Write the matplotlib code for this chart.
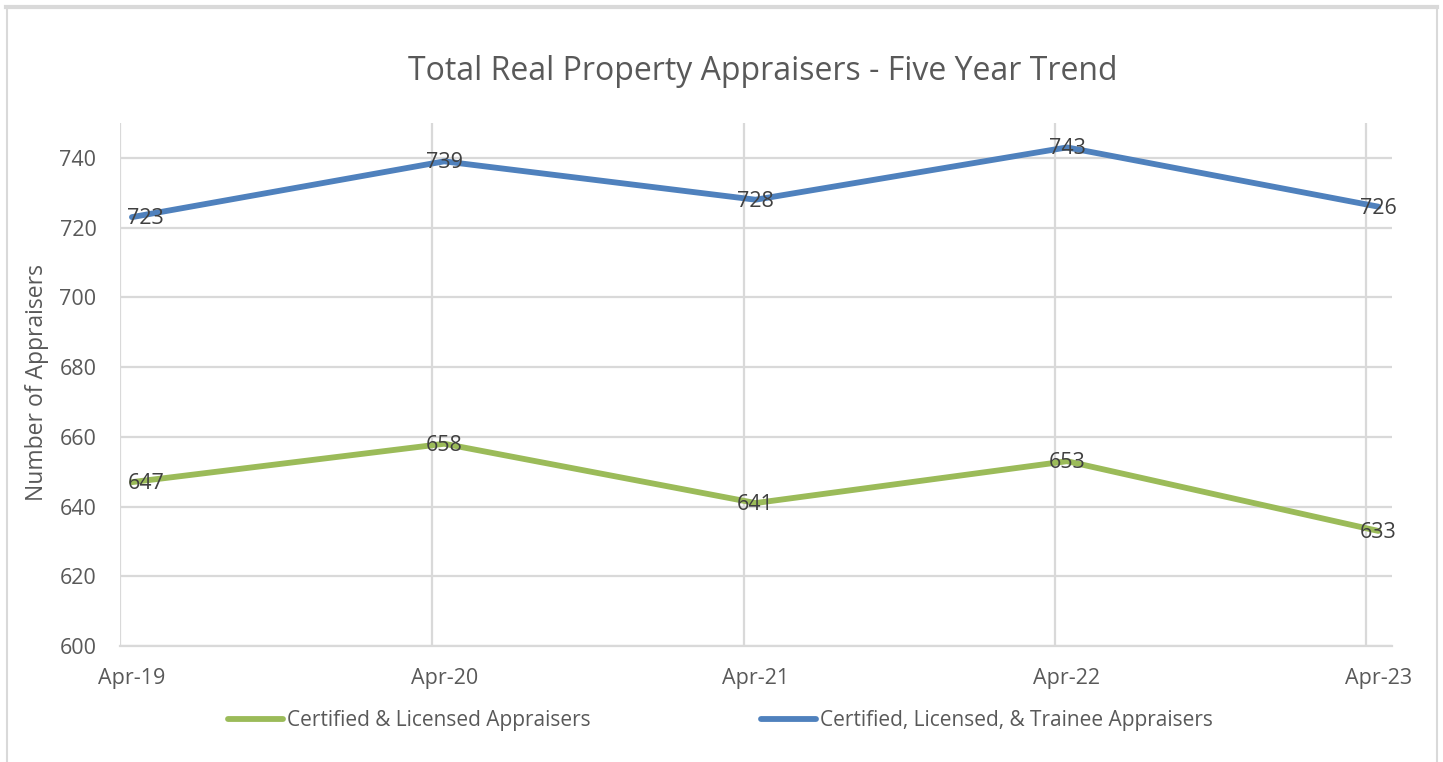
import matplotlib
matplotlib.use("Agg")
import matplotlib.pyplot as plt
import matplotlib.dates as mdates
from matplotlib.lines import Line2D
import pandas as pd

# ---- data ----
dates = ["2019-04-15", "2020-04-15", "2021-04-15", "2022-04-15", "2023-04-15"]
tick_labels = ["Apr-19", "Apr-20", "Apr-21", "Apr-22", "Apr-23"]
certified_licensed = [647, 658, 641, 653, 633]
certified_licensed_trainee = [723, 739, 728, 743, 726]
series_names = ["Certified & Licensed Appraisers",
                "Certified, Licensed, & Trainee Appraisers"]
grid_dates = ["2019-04-01", "2020-04-01", "2021-04-01", "2022-04-01", "2023-04-01"]
y_ticks = [600, 620, 640, 660, 680, 700, 720, 740]

plt.rcParams['font.family'] = ['Open Sans', 'DejaVu Sans']

TEXT = "#595959"
GRID = "#D9D9D9"
GREEN = "#9BBB59"
BLUE = "#4F81BD"

W, H = 1443, 762
fig = plt.figure(figsize=(W / 100, H / 100), dpi=100)

def fx(px):
    return px / W

def fy(py):
    return 1 - py / H

ax = fig.add_axes([fx(120), fy(646), fx(1392) - fx(120), fy(123) - fy(646)])

x = pd.to_datetime(dates)
gx = pd.to_datetime(grid_dates)

l1, = ax.plot(x, certified_licensed, color=GREEN, lw=4.2, solid_capstyle='round',
              solid_joinstyle='round', zorder=3)
l2, = ax.plot(x, certified_licensed_trainee, color=BLUE, lw=4.2, solid_capstyle='round',
              solid_joinstyle='round', zorder=3)

for series in (certified_licensed, certified_licensed_trainee):
    for i, (xi, v) in enumerate(zip(x, series)):
        dx = 10 if i == 0 else 0
        ax.annotate(str(v), (mdates.date2num(xi), v), xytext=(dx, -1),
                    textcoords='offset points', ha='center', va='center',
                    fontsize=15.5, color="#404040", zorder=4)

ax.set_ylim(600, 750)
ax.set_xlim(pd.Timestamp("2019-04-01"), pd.Timestamp("2023-05-01"))
ax.set_yticks(y_ticks)
ax.set_xticks(x)
ax.set_xticklabels(tick_labels)
ax.set_xticks(gx, minor=True)

ax.grid(True, axis='y', color=GRID, lw=1.6)
ax.grid(True, axis='x', which='minor', color=GRID, lw=1.6)
ax.grid(False, axis='x', which='major')
for s in ['top', 'right', 'left']:
    ax.spines[s].set_visible(False)
ax.spines['bottom'].set_color(GRID)
ax.spines['bottom'].set_linewidth(1.6)
ax.tick_params(axis='both', which='both', length=0, labelsize=15.5, colors=TEXT)
ax.tick_params(axis='y', pad=17)
ax.tick_params(axis='x', pad=15.5)
ax.set_axisbelow(True)

fig.text(fx(763), fy(71), "Total Real Property Appraisers - Five Year Trend",
         ha='center', va='center', fontsize=23, color=TEXT)
fig.text(fx(37), fy(383), "Number of Appraisers", rotation=90,
         ha='center', va='center', fontsize=16.5, color=TEXT)

fig.legend([l1, l2], series_names, loc='center', bbox_to_anchor=(fx(720.5), fy(720.5)),
           ncol=2, frameon=False, fontsize=15, labelcolor=TEXT,
           handlelength=2.64, handletextpad=0.17, columnspacing=8.2)

# outer chart border
border = dict(color=GRID, transform=fig.transFigure, clip_on=False)
fig.add_artist(Line2D([fx(6), fx(1437)], [fy(7), fy(7)], lw=3, **border))
fig.add_artist(Line2D([fx(6.5), fx(6.5)], [fy(7), 0], lw=1.5, **border))
fig.add_artist(Line2D([fx(1437), fx(1437)], [fy(7), 0], lw=1.5, **border))

fig.savefig("out.png", dpi=100)
